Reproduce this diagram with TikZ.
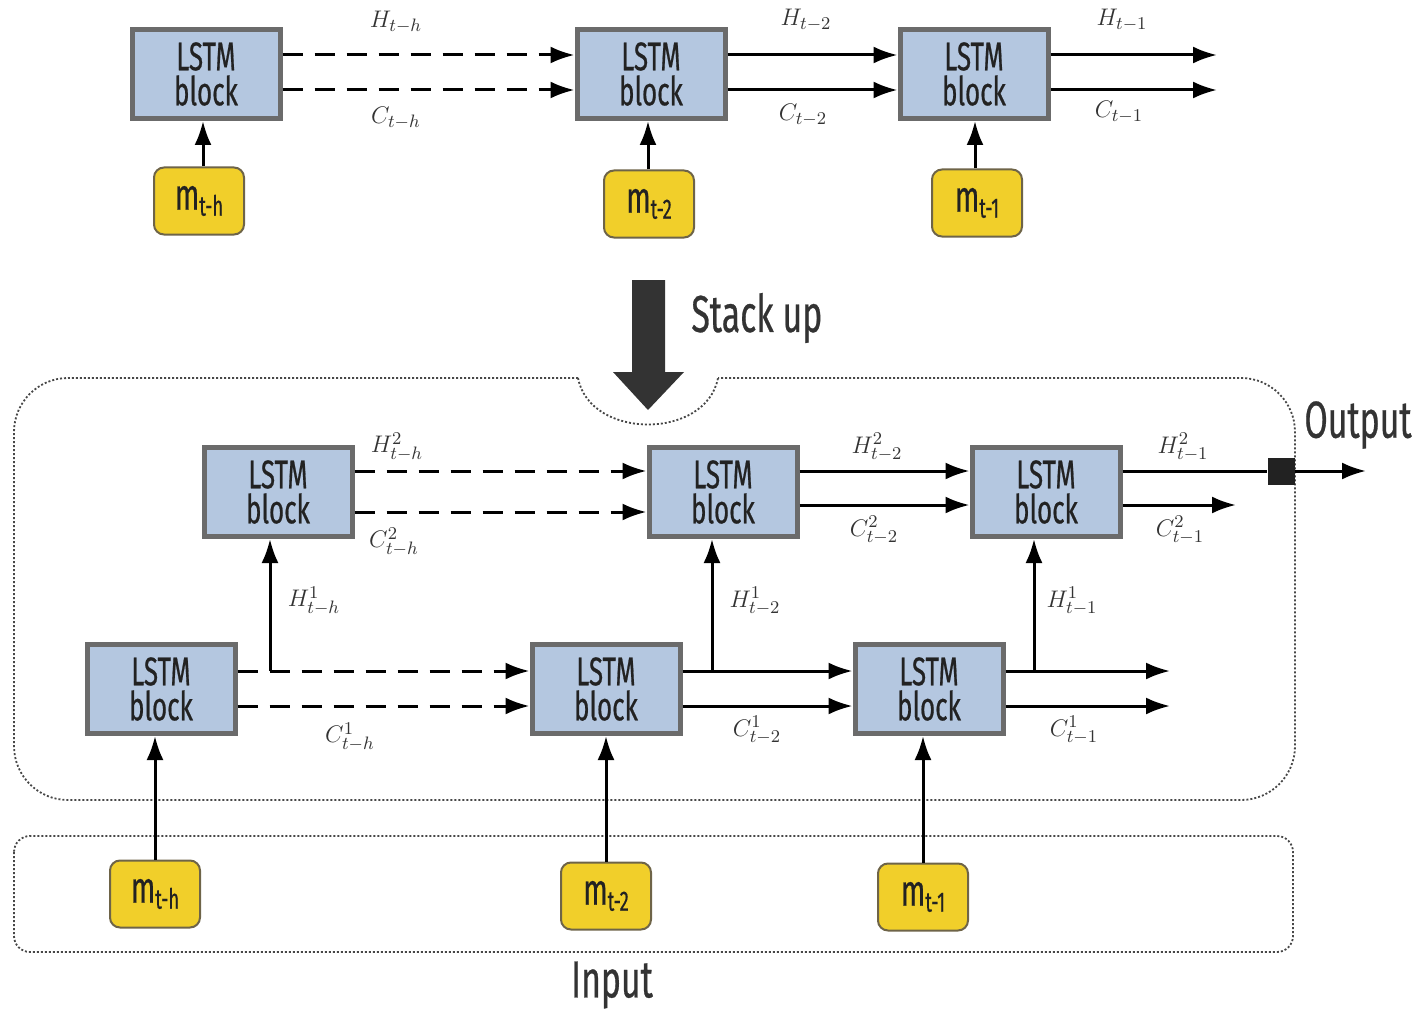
\documentclass[tikz,border=0pt]{standalone}
\usepackage{fontspec}
\usetikzlibrary{arrows.meta,calc}
\newfontfamily\cond[FakeStretch=0.65,FakeBold=0.5]{Fira Sans}
\definecolor{blockfill}{HTML}{B4C7E0}
\definecolor{blockdraw}{HTML}{6B6B6B}
\definecolor{yel}{HTML}{F1CF2A}
\definecolor{yeldraw}{HTML}{6E6448}
\definecolor{txt}{HTML}{222222}
\definecolor{dark}{HTML}{333333}
\tikzset{
  lstm/.style={draw=blockdraw,fill=blockfill,line width=2.5pt,minimum width=74pt,minimum height=44.5pt,
    inner sep=0pt,align=center,text=txt,font=\cond\fontsize{20}{17.5}\selectfont},
  minp/.style={draw=yeldraw,fill=yel,line width=1pt,rounded corners=5pt,minimum width=45pt,minimum height=33.5pt,
    inner sep=0pt,text=txt,font=\cond\fontsize{22}{22}\selectfont},
  arr/.style={line width=1.5pt,-{Latex[length=12pt,width=8.5pt]}},
  dsh/.style={dash pattern=on 10pt off 6pt},
  lab/.style={text=dark,font=\fontsize{13}{13}\selectfont,inner sep=0pt},
  big/.style={text=dark,font=\cond\fontsize{26}{26}\selectfont,inner sep=0pt},
  bound/.style={draw=dark!90,line width=0.9pt,dash pattern=on 1pt off 1pt},
}
\newcommand{\msub}[1]{m\raisebox{-3pt}{\fontsize{14}{14}\selectfont #1}}
\begin{document}
\begin{tikzpicture}[x=0.5pt,y=-0.5pt]
\useasboundingbox (0,0) rectangle (1414,1011);
% ---------- top row
\node[lstm] (t1) at (206,74) {LSTM\\block};
\node[lstm] (t2) at (651,74) {LSTM\\block};
\node[lstm] (t3) at (974,74) {LSTM\\block};
\node[minp] (tm1) at (199,201) {\msub{t-h}};
\node[minp] (tm2) at (649,204) {\msub{t-2}};
\node[minp] (tm3) at (977,203) {\msub{t-1}};
\draw[arr] (tm1.north -| 203,0) -- (t1.south -| 203,0);
\draw[arr] (tm2.north -| 648,0) -- (t2.south -| 648,0);
\draw[arr] (tm3.north -| 975,0) -- (t3.south -| 975,0);
\coordinate (tHend) at (1217,55);
\coordinate (tCend) at (1217,90);
\draw[arr,dsh] ([yshift=9.5pt]t1.east) -- ([yshift=9.5pt]t2.west);
\draw[arr,dsh] ([yshift=-8pt]t1.east) -- ([yshift=-8pt]t2.west);
\draw[arr] ([yshift=9.5pt]t2.east) -- ([yshift=9.5pt]t3.west);
\draw[arr] ([yshift=-8pt]t2.east) -- ([yshift=-8pt]t3.west);
\draw[arr] ([yshift=9.5pt]t3.east) -- (tHend);
\draw[arr] ([yshift=-8pt]t3.east) -- (tCend);
\node[lab] (l1) at (396,22) {$H_{t-h}$};
\node[lab] (l2) at (396,118) {$C_{t-h}$};
\node[lab] (l3) at (806,20) {$H_{t-2}$};
\node[lab] (l4) at (803,115) {$C_{t-2}$};
\node[lab] (l5) at (1122,20) {$H_{t-1}$};
\node[lab] (l6) at (1119,112) {$C_{t-1}$};
% ---------- stack up arrow
\fill[dark] (632,280) -- (665,280) -- (665,372) -- (684,372) -- (648,410) -- (613,372) -- (632,372) -- cycle;
\node[big,anchor=west] (stk) at (691,318) {Stack up};
% ---------- boundaries
\draw[bound,rounded corners=27pt] (578,378) -- (14,378) -- (14,800) -- (1295,800) -- (1295,378) -- (718,378);
\draw[bound] (578,378) .. controls (590,440) and (706,440) .. (718,378);
\draw[bound,rounded corners=8pt] (14,836) rectangle (1293,952);
% ---------- layer 2
\node[lstm] (a2) at (278,492) {LSTM\\block};
\node[lstm] (b2) at (723,492) {LSTM\\block};
\node[lstm] (c2) at (1046,492) {LSTM\\block};
% ---------- layer 1
\node[lstm] (a1) at (161,689) {LSTM\\block};
\node[lstm] (b1) at (606,689) {LSTM\\block};
\node[lstm] (c1) at (929,689) {LSTM\\block};
% ---------- inputs
\node[minp] (m1) at (155,894) {\msub{t-h}};
\node[minp] (m2) at (606,896) {\msub{t-2}};
\node[minp] (m3) at (923,897) {\msub{t-1}};
\draw[arr] (m1.north -| 155,0) -- (a1.south -| 155,0);
\draw[arr] (m2.north -| 606,0) -- (b1.south -| 606,0);
\draw[arr] (m3.north -| 923,0) -- (c1.south -| 923,0);
% layer 2 connectors
\node[fill=txt,minimum size=13.5pt,inner sep=0pt] (sq) at (1281,471) {};
\coordinate (oHend) at (1366,471);
\coordinate (oCend) at (1236,505);
\draw[arr,dsh] ([yshift=10.5pt]a2.east) -- ([yshift=10.5pt]b2.west);
\draw[arr,dsh] ([yshift=-10pt]a2.east) -- ([yshift=-10pt]b2.west);
\draw[arr] ([yshift=10.5pt]b2.east) -- ([yshift=10.5pt]c2.west);
\draw[arr] ([yshift=-6.5pt]b2.east) -- ([yshift=-6.5pt]c2.west);
\draw[line width=1.5pt] ([yshift=10.5pt]c2.east) -- (sq.west);
\draw[arr] (sq.east) -- (oHend);
\draw[arr] ([yshift=-6.5pt]c2.east) -- (oCend);
% layer 1 connectors
\coordinate (cEnd1) at (1170,671);
\coordinate (cEnd2) at (1170,706);
\draw[arr,dsh] ([yshift=9pt]a1.east) -- ([yshift=9pt]b1.west);
\draw[arr,dsh] ([yshift=-8.5pt]a1.east) -- ([yshift=-8.5pt]b1.west);
\draw[arr] ([yshift=9pt]b1.east) -- ([yshift=9pt]c1.west);
\draw[arr] ([yshift=-8.5pt]b1.east) -- ([yshift=-8.5pt]c1.west);
\draw[arr] ([yshift=9pt]c1.east) -- (cEnd1);
\draw[arr] ([yshift=-8.5pt]c1.east) -- (cEnd2);
% vertical H^1 connectors
\coordinate (ja) at (270,671);
\coordinate (jb) at (712,671);
\coordinate (jc) at (1034,671);
\draw[arr] (ja) -- (ja |- a2.south);
\draw[arr] (jb) -- (jb |- b2.south);
\draw[arr] (jc) -- (jc |- c2.south);
% labels
\node[lab] (k1) at (397,447) {$H^2_{t-h}$};
\node[lab] (k2) at (394,542) {$C^2_{t-h}$};
\node[lab] (k3) at (877,447) {$H^2_{t-2}$};
\node[lab] (k4) at (874,530) {$C^2_{t-2}$};
\node[lab] (k5) at (1183,447) {$H^2_{t-1}$};
\node[lab] (k6) at (1180,530) {$C^2_{t-1}$};
\node[lab] (k7) at (314,601) {$H^1_{t-h}$};
\node[lab] (k8) at (755,601) {$H^1_{t-2}$};
\node[lab] (k9) at (1072,601) {$H^1_{t-1}$};
\node[lab] (k10) at (350,737) {$C^1_{t-h}$};
\node[lab] (k11) at (757,730) {$C^1_{t-2}$};
\node[lab] (k12) at (1074,730) {$C^1_{t-1}$};
\node[big] (outp) at (1358,425) {Output};
\node[big] (inp) at (612,985) {Input};
\end{tikzpicture}
\end{document}
